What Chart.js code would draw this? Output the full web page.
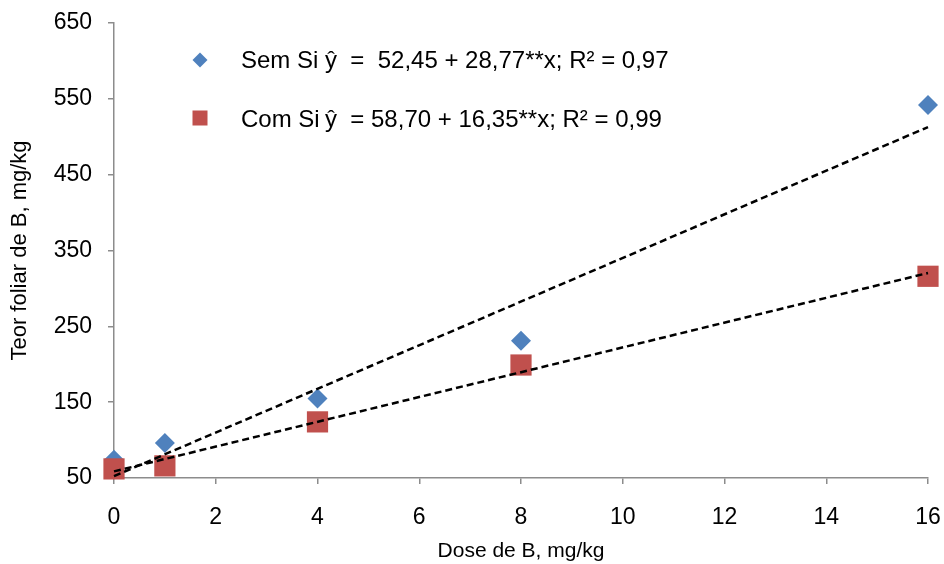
<!DOCTYPE html>
<html>
<head>
<meta charset="utf-8">
<script src="https://cdn.jsdelivr.net/npm/chart.js@4/dist/chart.umd.min.js"></script>
<style>
  html, body { margin: 0; padding: 0; background: #fff; }
  #wrap { width: 944px; height: 564px; }
</style>
</head>
<body>
<div id="wrap"><canvas id="chartBoro"></canvas></div>
<script>
// doses of B (mg/kg)
const doses = [0, 1, 4, 8, 16];
// leaf B content
const semSi = [74, 96, 155, 231, 542];
const comSi = [62, 66, 124, 199, 316];
// fitted lines at x = 0 and x = 16
const trendX = [0, 16];
const trendSem = [52.45, 512.77];
const trendCom = [58.70, 320.30];
const legendNames = ["Sem Si", "Com Si"];
const legendEqs = ["ŷ  =  52,45 + 28,77**x; R² = 0,97", "ŷ  = 58,70 + 16,35**x; R² = 0,99"];

const BLUE = "#4f81bd";
const RED = "#c0504d";
const AXIS = "#8c8c8c";
const FONT = "'Liberation Sans', Arial, sans-serif";

function toPoints(xs, ys) {
    return xs.map((x, i) => ({ x: x, y: ys[i] }));
}

// legend drawn inside the plot, top left
const legendInside = {
    id: "legendInside",
    afterDraw(chart) {
        const ctx = chart.ctx;
        ctx.save();
        ctx.font = "24px " + FONT;
        ctx.textBaseline = "alphabetic";
        // diamond
        ctx.fillStyle = BLUE;
        ctx.beginPath();
        ctx.moveTo(200, 52.5);
        ctx.lineTo(207.5, 60);
        ctx.lineTo(200, 67.5);
        ctx.lineTo(192.5, 60);
        ctx.closePath();
        ctx.fill();
        // square
        ctx.fillStyle = RED;
        ctx.fillRect(192.5, 110.5, 15, 15);

        ctx.fillStyle = "#000";
        const rows = [67.5, 126.5];
        rows.forEach((y, i) => {
            ctx.fillText(legendNames[i], 241, y);
            ctx.fillText(legendEqs[i], 325, y);
        });
        ctx.restore();
    }
};

new Chart(document.getElementById("chartBoro"), {
    type: "scatter",
    data: {
        datasets: [
            {
                label: "Sem Si ajuste",
                data: toPoints(trendX, trendSem),
                showLine: true,
                borderColor: "#000",
                borderWidth: 2.5,
                borderDash: [7, 4],
                pointRadius: 0,
                order: 0,
                clip: false,
            },
            {
                label: "Com Si ajuste",
                data: toPoints(trendX, trendCom),
                showLine: true,
                borderColor: "#000",
                borderWidth: 2.5,
                borderDash: [7, 4],
                pointRadius: 0,
                order: 0,
                clip: false,
            },
            {
                label: "Com Si",
                data: toPoints(doses, comSi),
                pointStyle: "rect",
                pointRadius: 15,
                backgroundColor: RED,
                borderColor: RED,
                borderWidth: 0,
                order: 1,
                clip: false,
            },
            {
                label: "Sem Si",
                data: toPoints(doses, semSi),
                pointStyle: "rectRot",
                pointRadius: 10,
                backgroundColor: BLUE,
                borderColor: BLUE,
                borderWidth: 0,
                order: 2,
                clip: false,
            },
        ],
    },
    options: {
        responsive: true,
        maintainAspectRatio: false,
        animation: false,
        layout: { padding: { top: 23, right: 16, bottom: 0, left: 0 } },
        plugins: {
            legend: { display: false },
            tooltip: { enabled: false },
        },
        scales: {
            x: {
                type: "linear",
                min: 0,
                max: 16,
                afterFit: (s) => {
                    s.height = 86;
                    s.paddingLeft = 0;
                    s.paddingRight = 0;
                },
                ticks: {
                    stepSize: 2,
                    padding: 20,
                    color: "#000",
                    font: { family: FONT, size: 23 },
                },
                grid: { drawOnChartArea: false, color: AXIS, lineWidth: 1.5, tickLength: 6 },
                border: { color: AXIS, width: 1.5 },
                title: {
                    display: true,
                    text: "Dose de B, mg/kg",
                    color: "#000",
                    font: { family: FONT, size: 21 },
                    padding: { top: 0, bottom: 0 },
                },
            },
            y: {
                min: 50,
                max: 650,
                afterFit: (s) => {
                    s.width = 114;
                    s.paddingTop = 0;
                    s.paddingBottom = 0;
                },
                ticks: {
                    stepSize: 100,
                    padding: 16,
                    color: "#000",
                    font: { family: FONT, size: 23 },
                },
                grid: { drawOnChartArea: false, color: AXIS, lineWidth: 1.5, tickLength: 6 },
                border: { color: AXIS, width: 1.5 },
                title: {
                    display: true,
                    text: "Teor foliar de B, mg/kg",
                    color: "#000",
                    font: { family: FONT, size: 22 },
                    padding: { top: 7, bottom: 0 },
                },
            },
        },
    },
    plugins: [legendInside],
});
</script>
</body>
</html>
